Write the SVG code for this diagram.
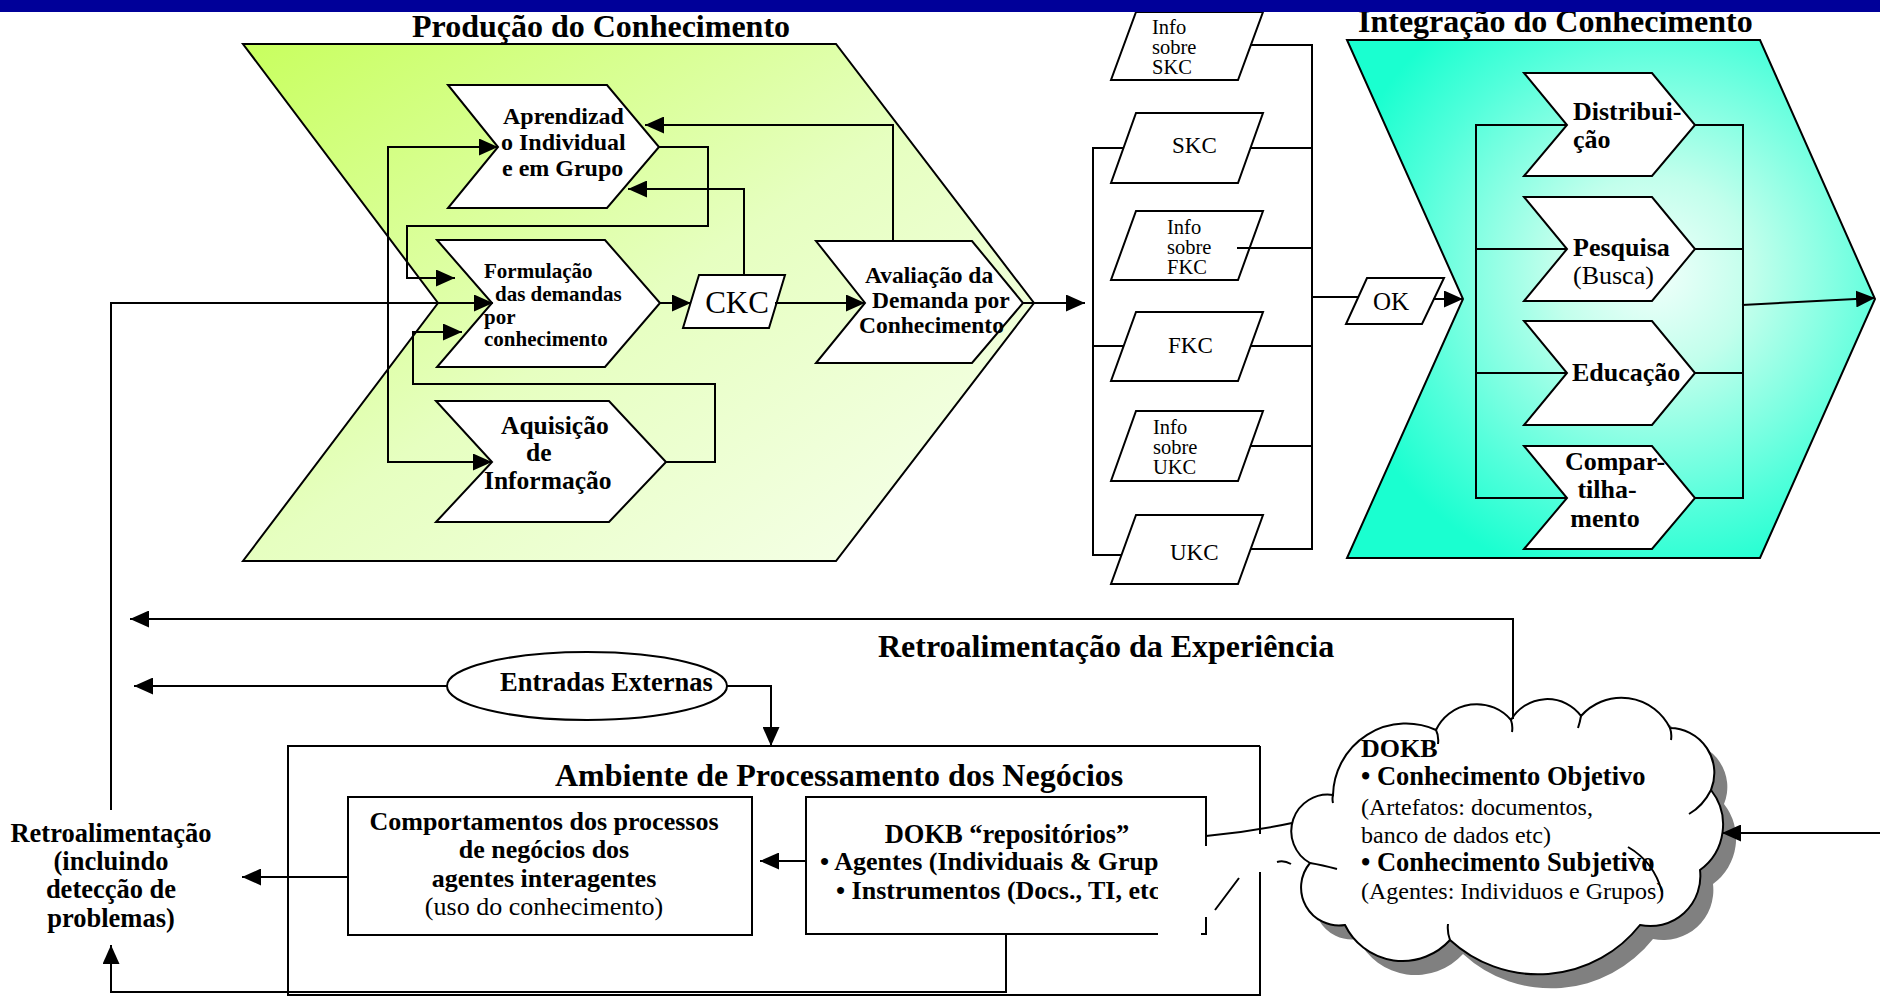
<svg xmlns="http://www.w3.org/2000/svg" width="1880" height="997" viewBox="0 0 1880 997">
<defs>
<style>
.ln{fill:none;stroke:#000;stroke-width:2}
.shp{fill:#fff;stroke:#000;stroke-width:2}
.b{font-family:"Liberation Serif","Times New Roman",serif;font-weight:bold;fill:#000}
.r{font-family:"Liberation Serif","Times New Roman",serif;fill:#000}
.t32{font-size:32px}
.mid{text-anchor:middle}
.inf{font-size:20.5px}
</style>
<marker id="ah" viewBox="0 0 10 10" refX="10" refY="5" markerUnits="userSpaceOnUse" markerWidth="19" markerHeight="17" preserveAspectRatio="none" orient="auto"><path d="M0,0 L10,5 L0,10 z" fill="#000"/></marker>
<linearGradient id="gG" x1="0" y1="0" x2="1" y2="1"><stop offset="0" stop-color="#C8FF5E"/><stop offset="0.5" stop-color="#E6FFC0"/><stop offset="1" stop-color="#F8FFF0"/></linearGradient>
<radialGradient id="gT" cx="0.58" cy="0.45" r="0.62"><stop offset="0" stop-color="#F2FFFB"/><stop offset="0.3" stop-color="#C2FFEC"/><stop offset="0.75" stop-color="#52FFDB"/><stop offset="1" stop-color="#1AFFD0"/></radialGradient>
<clipPath id="cut"><rect x="0" y="0" width="1158" height="997"/></clipPath>
</defs>
<rect width="1880" height="997" fill="#fff"/>

<g id="producao">
<polygon points="243,44 836,44 1034,303 836,561 243,561 438,303" fill="url(#gG)" stroke="#000" stroke-width="2"/>
<text class="b t32 mid" x="601" y="37">Produção do Conhecimento</text>
</g>
<g id="integracao">
<polygon points="1347,40 1760,40 1875,299 1760,558 1347,558 1463,299" fill="url(#gT)" stroke="#000" stroke-width="2"/>
<text class="b t32" x="1358" y="32">Integração do Conhecimento</text>
</g>

<g id="aprendizado">
<polygon class="shp" points="448,85 607,85 659,147 607,208 448,208 498,147"/>
<text class="b" font-size="24"><tspan x="503" y="124">Aprendizad</tspan><tspan x="501" y="150">o Individual</tspan><tspan x="502" y="176">e em Grupo</tspan></text>
</g>
<g id="formulacao">
<polygon class="shp" points="437,240 605,240 660,303 605,367 437,367 492,303"/>
<text class="b" font-size="21"><tspan x="484" y="278">Formulação</tspan><tspan x="495" y="301">das demandas</tspan><tspan x="484" y="324">por</tspan><tspan x="484" y="346">conhecimento</tspan></text>
</g>
<g id="aquisicao">
<polygon class="shp" points="436,401 609,401 666,462 609,522 436,522 492,462"/>
<text class="b" font-size="25.5"><tspan x="501" y="434">Aquisição</tspan><tspan x="526" y="461">de</tspan><tspan x="484" y="489">Informação</tspan></text>
</g>
<g id="ckc">
<polygon class="shp" points="699,275 785,275 769,328 683,328"/>
<text class="r mid" font-size="31" x="737" y="313">CKC</text>
</g>
<g id="avaliacao">
<polygon class="shp" points="816,241 972,241 1023,303 972,363 816,363 865,303"/>
<text class="b" font-size="23.5"><tspan x="865" y="283">Avaliação da</tspan><tspan x="872" y="308">Demanda por</tspan><tspan x="859" y="333">Conhecimento</tspan></text>
</g>

<g id="info-skc">
<polygon class="shp" points="1136,12 1263,12 1238,80 1111,80"/>
<text class="r inf"><tspan x="1152" y="34">Info</tspan><tspan x="1152" y="54">sobre</tspan><tspan x="1152" y="74">SKC</tspan></text>
</g>
<g id="skc">
<polygon class="shp" points="1136,113 1263,113 1238,183 1111,183"/>
<text class="r" font-size="23" x="1172" y="153">SKC</text>
</g>
<g id="info-fkc">
<polygon class="shp" points="1136,211 1263,211 1238,280 1111,280"/>
<text class="r inf"><tspan x="1167" y="234">Info</tspan><tspan x="1167" y="254">sobre</tspan><tspan x="1167" y="274">FKC</tspan></text>
</g>
<g id="fkc">
<polygon class="shp" points="1136,312 1263,312 1238,381 1111,381"/>
<text class="r" font-size="23" x="1168" y="353">FKC</text>
</g>
<g id="info-ukc">
<polygon class="shp" points="1136,411 1263,411 1238,481 1111,481"/>
<text class="r inf"><tspan x="1153" y="434">Info</tspan><tspan x="1153" y="454">sobre</tspan><tspan x="1153" y="474">UKC</tspan></text>
</g>
<g id="ukc">
<polygon class="shp" points="1136,515 1263,515 1238,584 1111,584"/>
<text class="r" font-size="23" x="1170" y="560">UKC</text>
</g>
<g id="ok">
<polygon class="shp" points="1367,278 1444,278 1422,324 1346,324"/>
<text class="r" font-size="25" x="1373" y="310">OK</text>
</g>

<g id="distribuicao">
<polygon class="shp" points="1524,73 1652,73 1695,125 1652,176 1524,176 1567,125"/>
<text class="b" font-size="26"><tspan x="1573" y="120">Distribui-</tspan><tspan x="1573" y="148">ção</tspan></text>
</g>
<g id="pesquisa">
<polygon class="shp" points="1524,197 1652,197 1695,249 1652,301 1524,301 1567,249"/>
<text class="b" font-size="26" x="1573" y="256">Pesquisa</text>
<text class="r" font-size="26" x="1573" y="284">(Busca)</text>
</g>
<g id="educacao">
<polygon class="shp" points="1524,321 1652,321 1695,373 1652,425 1524,425 1567,373"/>
<text class="b" font-size="26" x="1572" y="381">Educação</text>
</g>
<g id="compartilhamento">
<polygon class="shp" points="1524,446 1652,446 1695,498 1652,549 1524,549 1567,498"/>
<text class="b mid" font-size="26"><tspan x="1615" y="470">Compar-</tspan><tspan x="1607" y="498">tilha-</tspan><tspan x="1605" y="527">mento</tspan></text>
</g>

<g id="ambiente">
<path class="ln" d="M1260,746 H288 V995 H1260 V872 M1260,746 V834"/>
<text class="b t32" x="555" y="786">Ambiente de Processamento dos Negócios</text>
</g>
<g id="comportamentos">
<rect class="shp" x="348" y="797" width="404" height="138"/>
<text class="b mid" font-size="26"><tspan x="544" y="830">Comportamentos dos processos</tspan><tspan x="544" y="858">de negócios dos</tspan><tspan x="544" y="887">agentes interagentes</tspan></text>
<text class="r mid" font-size="26" x="544" y="915">(uso do conhecimento)</text>
</g>
<g id="dokb-repositorios">
<path class="ln" d="M1206,846 V797 H806 V934 H1158 M1206,917 V934 H1201"/>
<text class="b mid" font-size="26.5" x="1007" y="843">DOKB “repositórios”</text>
<g clip-path="url(#cut)">
<text class="b" font-size="26" x="820" y="870">• Agentes (Individuais &amp; Grup</text>
<text class="b" font-size="26" x="836" y="899">• Instrumentos (Docs., TI, etc</text>
</g>
</g>
<g id="entradas">
<ellipse class="shp" cx="587" cy="686" rx="140" ry="34"/>
<text class="b" font-size="26.5" x="500" y="691">Entradas Externas</text>
</g>
<g id="retro-exp">
<text class="b t32" x="878" y="657">Retroalimentação da Experiência</text>
</g>
<g id="retro">
<text class="b mid" font-size="26.5"><tspan x="111" y="842">Retroalimentação</tspan><tspan x="111" y="870">(incluindo</tspan><tspan x="111" y="898">detecção de</tspan><tspan x="111" y="927">problemas)</tspan></text>
</g>
<g id="dokb-cloud">
<path d="M1333,795 A73,73 0 0 1 1436,730 A45,45 0 0 1 1511,720 A42,42 0 0 1 1581,716 A54,54 0 0 1 1670,728 A45,45 0 0 1 1711,790 A56,56 0 0 1 1700,870 A50,50 0 0 1 1640,925 A130,130 0 0 1 1450,940 A64,64 0 0 1 1345,925 A38,38 0 0 1 1310,863 A36.5,36.5 0 0 1 1333,795 Z" transform="translate(13,14)" fill="#808080"/>
<path class="shp" d="M1333,795 A73,73 0 0 1 1436,730 A45,45 0 0 1 1511,720 A42,42 0 0 1 1581,716 A54,54 0 0 1 1670,728 A45,45 0 0 1 1711,790 A56,56 0 0 1 1700,870 A50,50 0 0 1 1640,925 A130,130 0 0 1 1450,940 A64,64 0 0 1 1345,925 A38,38 0 0 1 1310,863 A36.5,36.5 0 0 1 1333,795 Z"/>
<path class="ln" stroke-width="1.5" d="M1436,730 q3,6 2,14 M1511,720 q2,6 1,12 M1581,716 q-1,6 -3,12 M1670,728 q2,6 1,12 M1711,790 q-8,16 -22,24 M1662,892 q-8,-30 -34,-45 M1450,940 q-3,-8 -2,-16 M1310,863 q12,2 27,6 M1333,795 q-1,4 0,8"/>
<text class="b" font-size="26" x="1361" y="757">DOKB</text>
<text class="b" font-size="26.5" x="1361" y="785">• Conhecimento Objetivo</text>
<text class="r" font-size="24" x="1361" y="815">(Artefatos: documentos,</text>
<text class="r" font-size="24" x="1361" y="843">banco de dados etc)</text>
<text class="b" font-size="26.5" x="1361" y="871">• Conhecimento Subjetivo</text>
<text class="r" font-size="24" x="1361" y="899">(Agentes: Individuos e Grupos)</text>
</g>

<g id="connectors">
<path class="ln" d="M111,810 V303 H493" marker-end="url(#ah)"/>
<path class="ln" d="M388,303 V147 H498" marker-end="url(#ah)"/>
<path class="ln" d="M388,303 V462 H492" marker-end="url(#ah)"/>
<path class="ln" d="M659,147 H708 V226 H407 V278 H455" marker-end="url(#ah)"/>
<path class="ln" d="M744,275 V189 H628" marker-end="url(#ah)"/>
<path class="ln" d="M660,303 H691" marker-end="url(#ah)"/>
<path class="ln" d="M775,303 H865" marker-end="url(#ah)"/>
<path class="ln" d="M893,241 V125 H645" marker-end="url(#ah)"/>
<path class="ln" d="M666,462 H715 V384 H413 V332 H462" marker-end="url(#ah)"/>
<path class="ln" d="M1023,303 H1085" marker-end="url(#ah)"/>
<path class="ln" d="M1123,148 H1093 V555 H1121 M1093,346 H1124"/>
<path class="ln" d="M1250,45 H1312 V549 H1251 M1250,148 H1312 M1237,248 H1312 M1251,346 H1312 M1250,446 H1312 M1312,297 H1358"/>
<path class="ln" d="M1433,299 H1463" marker-end="url(#ah)"/>
<path class="ln" d="M1567,125 H1476 V498 H1567 M1476,249 H1567 M1476,373 H1567"/>
<path class="ln" d="M1695,125 H1743 V498 H1695 M1695,249 H1743 M1695,373 H1743"/>
<path class="ln" d="M1742,305 L1875,298" marker-end="url(#ah)"/>
<path class="ln" d="M1513,719 V619 H130" marker-end="url(#ah)"/>
<path class="ln" d="M447,686 H134" marker-end="url(#ah)"/>
<path class="ln" d="M727,686 H771 V746" marker-end="url(#ah)"/>
<path class="ln" d="M806,861 H760" marker-end="url(#ah)"/>
<path class="ln" d="M348,877 H242" marker-end="url(#ah)"/>
<path class="ln" d="M1006,934 V992 H111 V945" marker-end="url(#ah)"/>
<path class="ln" d="M1880,833 H1722" marker-end="url(#ah)"/>
<path class="ln" d="M1206,836 Q1250,832 1292,823"/>
<path class="ln" d="M1277,862 Q1284,860 1291,864 M1215,910 L1239,878"/>
</g>

<rect id="top-bar" x="0" y="0" width="1880" height="12" fill="#000099"/>
</svg>
